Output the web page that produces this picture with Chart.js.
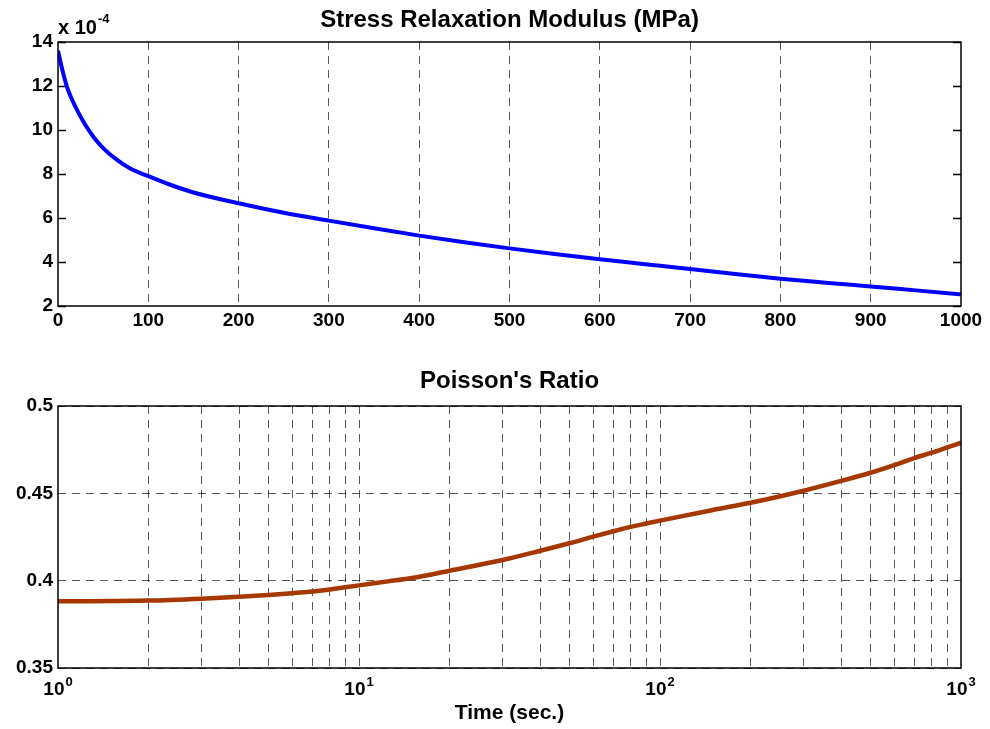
<!DOCTYPE html>
<html>
<head>
<meta charset="utf-8">
<title>Stress Relaxation Modulus / Poisson's Ratio</title>
<script src="https://cdn.jsdelivr.net/npm/chart.js@4"></script>
<style>
  html, body { margin: 0; padding: 0; background: #fff; }
  #wrap { position: relative; width: 990px; height: 729px; }
  canvas { position: absolute; left: 0; }
  #topChart { top: 0; }
  #botChart { top: 360px; }
</style>
</head>
<body>
<div id="wrap">
  <canvas id="topChart" width="990" height="360"></canvas>
  <canvas id="botChart" width="990" height="369"></canvas>
</div>
<script>
// --- data ---
// top panel: time (s) vs relaxation modulus, in units of 1e-4 MPa
const TIME_TOP = [0, 5, 10, 20, 30, 40, 50, 65, 80, 100, 125, 150, 200, 250, 300, 350, 400, 450, 500,
                  550, 600, 650, 700, 750, 800, 850, 900, 950, 1000];
const MODULUS_E4 = [13.6, 12.7, 11.95, 11.0, 10.25, 9.65, 9.18, 8.65, 8.25, 7.9, 7.5, 7.16, 6.67, 6.24, 5.88,
                    5.53, 5.2, 4.9, 4.62, 4.36, 4.12, 3.9, 3.68, 3.45, 3.24, 3.06, 2.89, 2.71, 2.53];

// bottom panel: time (s, log axis) vs Poisson's ratio
const TIME_BOT = [1, 2, 3, 4, 5, 6, 7, 8, 9, 10, 12.5, 15, 20, 30, 40, 50, 60, 70, 80, 90, 100,
                  150, 200, 300, 400, 500, 600, 700, 800, 900, 1000];
const POISSON = [0.3882, 0.3886, 0.3897, 0.3908, 0.3918, 0.3928, 0.3938, 0.395, 0.3962, 0.3973, 0.3996, 0.4015,
                 0.4057, 0.4118, 0.4171, 0.4214, 0.4252, 0.4283, 0.4308, 0.4327, 0.4344,
                 0.4405, 0.4446, 0.4515, 0.4571, 0.4618, 0.4662, 0.4702, 0.4733, 0.4763, 0.479];

// log axis grid positions and labelled decades
const LOG_TICKS = [1, 2, 3, 4, 5, 6, 7, 8, 9, 10, 20, 30, 40, 50, 60, 70, 80, 90,
                   100, 200, 300, 400, 500, 600, 700, 800, 900, 1000];
const DECADES = [0, 1, 2, 3];

const FONT = "'Liberation Sans', Arial, Helvetica, sans-serif";
const GRID_COL = "rgba(0,0,0,0.66)";
const GRID_DASH = [8, 6];

// box round the plot area + inward y ticks on both sides
const boxPlugin = {
  id: "box",
  afterDatasetsDraw(chart, args, opts) {
    const { ctx, chartArea: a } = chart;
    ctx.save();
    ctx.strokeStyle = "#000";
    ctx.lineWidth = 1.5;
    if (opts.yTicks) {
      const y = chart.scales.y;
      y.ticks.forEach(t => {
        const py = Math.round(y.getPixelForValue(t.value)) + 0.5;
        ctx.beginPath();
        ctx.moveTo(a.left, py); ctx.lineTo(a.left + 8, py);
        ctx.moveTo(a.right, py); ctx.lineTo(a.right - 8, py);
        ctx.stroke();
      });
    }
    ctx.strokeRect(a.left, a.top, a.right - a.left, a.bottom - a.top);
    ctx.restore();
  }
};

// "x 10^-4" multiplier above the top y axis
const expPlugin = {
  id: "expLabel",
  afterDraw(chart, args, opts) {
    if (!opts.show) return;
    const { ctx, chartArea: a } = chart;
    ctx.save();
    ctx.fillStyle = "#000";
    ctx.textBaseline = "middle";
    ctx.textAlign = "left";
    ctx.font = "bold 20px " + FONT;
    const base = "x 10";
    ctx.fillText(base, a.left, 28);
    const w = ctx.measureText(base).width;
    ctx.font = "bold 13px " + FONT;
    ctx.fillText("-4", a.left + w + 1, 19);
    ctx.restore();
  }
};

// 10^n labels on the log axis
const decadePlugin = {
  id: "decades",
  afterDraw(chart, args, opts) {
    if (!opts.show) return;
    const { ctx } = chart;
    const x = chart.scales.x;
    ctx.save();
    ctx.fillStyle = "#000";
    ctx.textBaseline = "middle";
    ctx.textAlign = "left";
    DECADES.forEach(n => {
      const px = x.getPixelForValue(Math.pow(10, n));
      ctx.font = "bold 19px " + FONT;
      const wb = ctx.measureText("10").width;
      ctx.font = "bold 13px " + FONT;
      const we = ctx.measureText(String(n)).width;
      const x0 = px - (wb + we + 1) / 2;
      ctx.font = "bold 19px " + FONT;
      ctx.fillText("10", x0, 330);
      ctx.font = "bold 13px " + FONT;
      ctx.fillText(String(n), x0 + wb + 1, 322);
    });
    ctx.restore();
  }
};

Chart.register(boxPlugin, expPlugin, decadePlugin);

const tickFont = { family: FONT, size: 19, weight: "bold" };
const titleFont = { family: FONT, size: 24, weight: "bold" };

new Chart(document.getElementById("topChart"), {
  type: "line",
  data: {
    datasets: [{
      data: TIME_TOP.map((t, i) => ({ x: t, y: MODULUS_E4[i] })),
      borderColor: "#0000ff",
      borderWidth: 4,
      pointRadius: 0,
      cubicInterpolationMode: "monotone",
      fill: false
    }]
  },
  options: {
    responsive: false,
    animation: false,
    devicePixelRatio: 1,
    layout: { padding: { left: 0, right: 29, top: 0, bottom: 0 } },
    plugins: {
      legend: { display: false },
      tooltip: { enabled: false },
      title: {
        display: true, text: "Stress Relaxation Modulus (MPa)", color: "#000",
        font: titleFont, fullSize: false, padding: { top: 5.6, bottom: 7.6 }
      },
      box: { yTicks: true },
      expLabel: { show: true },
      decades: { show: false }
    },
    scales: {
      x: {
        type: "linear", min: 0, max: 1000,
        afterFit: s => { s.height = 54; },
        ticks: { stepSize: 100, color: "#000", font: tickFont, padding: 3, maxRotation: 0,
                 callback: v => String(v) },
        grid: { color: c => (c.tick.value === 0 || c.tick.value === 1000) ? "rgba(0,0,0,0)" : GRID_COL,
                lineWidth: 1, drawTicks: false },
        border: { display: false, dash: GRID_DASH }
      },
      y: {
        min: 2, max: 14,
        afterFit: s => { s.width = 58; },
        ticks: { stepSize: 2, color: "#000", font: tickFont, padding: 5, callback: v => String(v) },
        grid: { display: false, drawTicks: false },
        border: { display: false }
      }
    }
  }
});

new Chart(document.getElementById("botChart"), {
  type: "line",
  data: {
    datasets: [{
      data: TIME_BOT.map((t, i) => ({ x: t, y: POISSON[i] })),
      borderColor: "#a53800",
      borderWidth: 4.5,
      pointRadius: 0,
      cubicInterpolationMode: "monotone",
      fill: false
    }]
  },
  options: {
    responsive: false,
    animation: false,
    devicePixelRatio: 1,
    layout: { padding: { left: 0, right: 29, top: 0, bottom: 0 } },
    plugins: {
      legend: { display: false },
      tooltip: { enabled: false },
      title: {
        display: true, text: "Poisson's Ratio", color: "#000",
        font: titleFont, fullSize: false, padding: { top: 7.1, bottom: 10.1 }
      },
      box: { yTicks: false },
      expLabel: { show: false },
      decades: { show: true }
    },
    scales: {
      x: {
        type: "logarithmic", min: 1, max: 1000,
        afterBuildTicks: s => { s.ticks = LOG_TICKS.map(v => ({ value: v })); },
        afterFit: s => { s.height = 61; },
        ticks: { display: false },
        grid: { color: c => (c.tick && (c.tick.value === 1 || c.tick.value === 1000)) ? "rgba(0,0,0,0)" : GRID_COL,
                lineWidth: 1, drawTicks: false },
        border: { display: false, dash: GRID_DASH },
        title: { display: true, text: "Time (sec.)", color: "#000",
                 font: { family: FONT, size: 21, weight: "bold" }, padding: { top: 0, bottom: 3 } }
      },
      y: {
        min: 0.35, max: 0.5,
        afterFit: s => { s.width = 58; },
        ticks: { stepSize: 0.05, color: "#000", font: tickFont, padding: 5,
                 callback: v => String(+v.toFixed(2)) },
        grid: { color: GRID_COL, lineWidth: 1, drawTicks: false },
        border: { display: false, dash: GRID_DASH }
      }
    }
  }
});
</script>
</body>
</html>
